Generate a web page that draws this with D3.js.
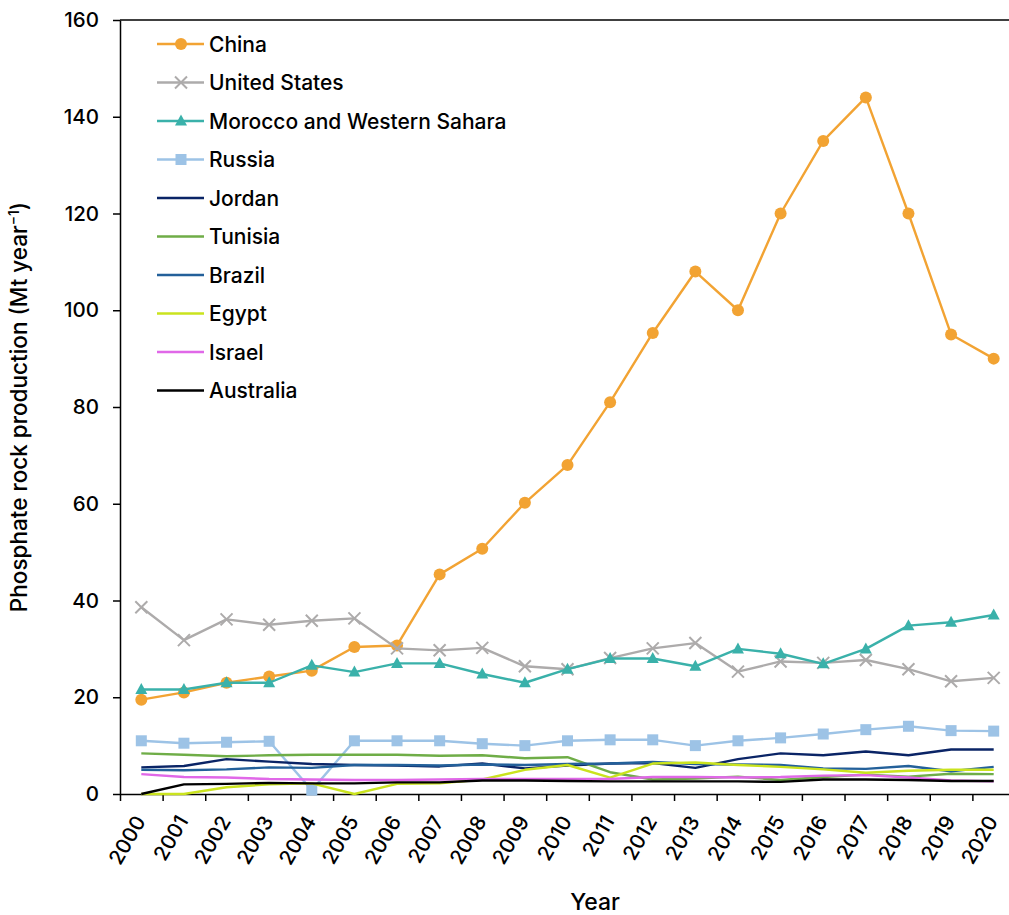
<!DOCTYPE html>
<html>
<head>
<meta charset="utf-8">
<script src="https://cdn.jsdelivr.net/npm/d3@7"></script>
<style>
  body { margin: 0; background: #fff; }
  svg { display: block; font-family: Inter, "Noto Sans", sans-serif; font-weight: 500; }
</style>
</head>
<body>
<svg id="chart" width="1009" height="915"></svg>
<script>
// data (Mt per year)
var years = ['2000','2001','2002','2003','2004','2005','2006','2007','2008','2009','2010',
             '2011','2012','2013','2014','2015','2016','2017','2018','2019','2020'];
var yTicks = [0, 20, 40, 60, 80, 100, 120, 140, 160];

var china     = [19.5, 21.0, 23.0, 24.3, 25.5, 30.4, 30.7, 45.4, 50.7, 60.2, 68.0, 81.0, 95.3, 108.0, 100.0, 120.0, 135.0, 144.0, 120.0, 95.0, 90.0];
var us        = [38.6, 31.8, 36.1, 35.0, 35.8, 36.3, 30.1, 29.7, 30.2, 26.4, 25.8, 28.1, 30.1, 31.2, 25.3, 27.4, 27.1, 27.7, 25.8, 23.3, 24.0];
var morocco   = [21.6, 21.6, 23.0, 23.0, 26.6, 25.2, 27.0, 27.0, 24.8, 23.0, 25.8, 28.0, 28.0, 26.4, 30.0, 29.0, 26.9, 30.0, 34.8, 35.5, 37.0];
var russia    = [11.0, 10.5, 10.7, 10.9, 0.8, 11.0, 11.0, 11.0, 10.4, 10.0, 11.0, 11.2, 11.2, 10.0, 11.0, 11.6, 12.4, 13.3, 14.0, 13.1, 13.0];
var jordan    = [5.5, 5.8, 7.2, 6.7, 6.2, 6.0, 5.9, 5.7, 6.3, 5.3, 5.9, 6.3, 6.4, 5.4, 7.2, 8.4, 8.0, 8.8, 8.0, 9.2, 9.2];
var tunisia   = [8.4, 8.1, 7.8, 8.0, 8.1, 8.1, 8.1, 7.9, 8.0, 7.4, 7.6, 4.5, 3.0, 3.2, 3.6, 2.9, 3.5, 4.0, 3.6, 4.2, 4.1];
var brazil    = [5.0, 4.9, 5.1, 5.5, 5.4, 6.0, 6.0, 5.9, 6.1, 6.0, 6.2, 6.3, 6.6, 6.2, 6.1, 6.0, 5.3, 5.2, 5.8, 4.7, 5.6];
var egypt     = [0.0, 0.0, 1.4, 2.0, 2.2, 0.0, 2.1, 2.2, 3.0, 5.0, 6.0, 3.4, 6.3, 6.5, 6.0, 5.6, 5.1, 4.4, 4.8, 5.0, 5.0];
var israel    = [4.1, 3.5, 3.4, 3.1, 3.0, 2.9, 2.9, 3.0, 3.1, 3.1, 3.1, 3.1, 3.5, 3.5, 3.4, 3.5, 3.8, 3.9, 3.4, 2.8, 2.6];
var australia = [0.0, 2.0, 2.1, 2.3, 2.2, 2.2, 2.4, 2.4, 2.8, 2.8, 2.7, 2.6, 2.6, 2.6, 2.6, 2.5, 3.0, 3.0, 2.9, 2.7, 2.7];

var seriesNames  = ['China', 'United States', 'Morocco and Western Sahara', 'Russia', 'Jordan',
                    'Tunisia', 'Brazil', 'Egypt', 'Israel', 'Australia'];
var seriesValues = [china, us, morocco, russia, jordan, tunisia, brazil, egypt, israel, australia];
var seriesColors = ['#F2A333', '#ADABAB', '#3AB1AA', '#9DC3E6', '#0A2466',
                    '#6FAD47', '#23609A', '#CAE31E', '#E068E8', '#000000'];
var seriesMarks  = ['circle', 'cross', 'triangle', 'square', null, null, null, null, null, null];

var svg = d3.select('#chart');
var plotL = 120, plotR = 1015, plotT = 20, plotB = 794;

var x = d3.scaleBand().domain(years).range([plotL, plotR]).padding(0);
var xEdge = d3.scaleLinear().domain([0, years.length]).range([plotL, plotR]);
var y = d3.scaleLinear().domain([0, 160]).range([plotB, plotT]);
var cx = function(d) { return x(d) + x.bandwidth() / 2; };

// frame top line
svg.append('line')
    .attr('x1', plotL).attr('x2', plotR)
    .attr('y1', plotT).attr('y2', plotT)
    .attr('stroke', '#000').attr('stroke-width', 1.5);

// y axis
var yAxis = svg.append('g')
    .attr('transform', 'translate(' + plotL + ',0)')
    .call(d3.axisLeft(y).tickValues(yTicks).tickSize(7).tickSizeOuter(0).tickPadding(14));
yAxis.selectAll('path, line').attr('stroke', '#000').attr('stroke-width', 1.5);
yAxis.selectAll('text').attr('font-size', 20.5).attr('fill', '#000').attr('font-family', 'Inter, sans-serif');

// x axis, ticks between categories
var xAxis = svg.append('g')
    .attr('transform', 'translate(0,' + plotB + ')')
    .call(d3.axisBottom(xEdge).tickValues(d3.range(years.length + 1)).tickFormat('').tickSize(7).tickSizeOuter(0));
xAxis.selectAll('path, line').attr('stroke', '#000').attr('stroke-width', 1.5);

svg.append('g').selectAll('text')
    .data(years).enter().append('text')
    .attr('transform', function(d) { return 'translate(' + (cx(d) + 5) + ',821) rotate(-60)'; })
    .attr('text-anchor', 'end')
    .attr('font-size', 20.5)
    .text(function(d) { return d; });

// axis titles
var yTitle = svg.append('text')
    .attr('transform', 'translate(27,407) rotate(-90)')
    .attr('text-anchor', 'middle')
    .attr('font-size', 22.5);
yTitle.append('tspan').text('Phosphate rock production (Mt year');
yTitle.append('tspan').attr('font-size', 14).attr('dy', -8).text('−1');
yTitle.append('tspan').attr('dy', 8).text(')');

svg.append('text')
    .attr('x', 595).attr('y', 910)
    .attr('text-anchor', 'middle')
    .attr('font-size', 23)
    .text('Year');

// markers
function drawMark(g, kind, color) {
    if (kind === 'circle') {
        g.append('circle').attr('r', 6).attr('fill', color);
    } else if (kind === 'square') {
        g.append('rect').attr('x', -5.5).attr('y', -5.5).attr('width', 11).attr('height', 11).attr('fill', color);
    } else if (kind === 'triangle') {
        g.append('path').attr('d', 'M0,-6.5L6,4.5L-6,4.5Z').attr('fill', color);
    } else if (kind === 'cross') {
        g.append('path').attr('d', 'M-6,-6L6,6M-6,6L6,-6')
            .attr('stroke', color).attr('stroke-width', 2).attr('fill', 'none');
    }
}

var line = d3.line()
    .x(function(d, i) { return cx(years[i]); })
    .y(function(d) { return y(d); });

seriesValues.forEach(function(vals, s) {
    var g = svg.append('g');
    g.append('path')
        .datum(vals)
        .attr('d', line)
        .attr('fill', 'none')
        .attr('stroke', seriesColors[s])
        .attr('stroke-width', 2.4)
        .attr('stroke-linejoin', 'round');
    if (seriesMarks[s]) {
        vals.forEach(function(v, i) {
            var m = g.append('g').attr('transform', 'translate(' + cx(years[i]) + ',' + y(v) + ')');
            drawMark(m, seriesMarks[s], seriesColors[s]);
        });
    }
});

// legend
var legend = svg.append('g');
seriesNames.forEach(function(name, s) {
    var ly = 44 + s * 38.5;
    legend.append('line')
        .attr('x1', 157).attr('x2', 204)
        .attr('y1', ly).attr('y2', ly)
        .attr('stroke', seriesColors[s]).attr('stroke-width', 2.4);
    if (seriesMarks[s]) {
        drawMark(legend.append('g').attr('transform', 'translate(181,' + ly + ')'), seriesMarks[s], seriesColors[s]);
    }
    legend.append('text')
        .attr('x', 209).attr('y', ly)
        .attr('dy', '0.36em')
        .attr('font-size', 21)
        .text(name);
});
</script>
</body>
</html>
